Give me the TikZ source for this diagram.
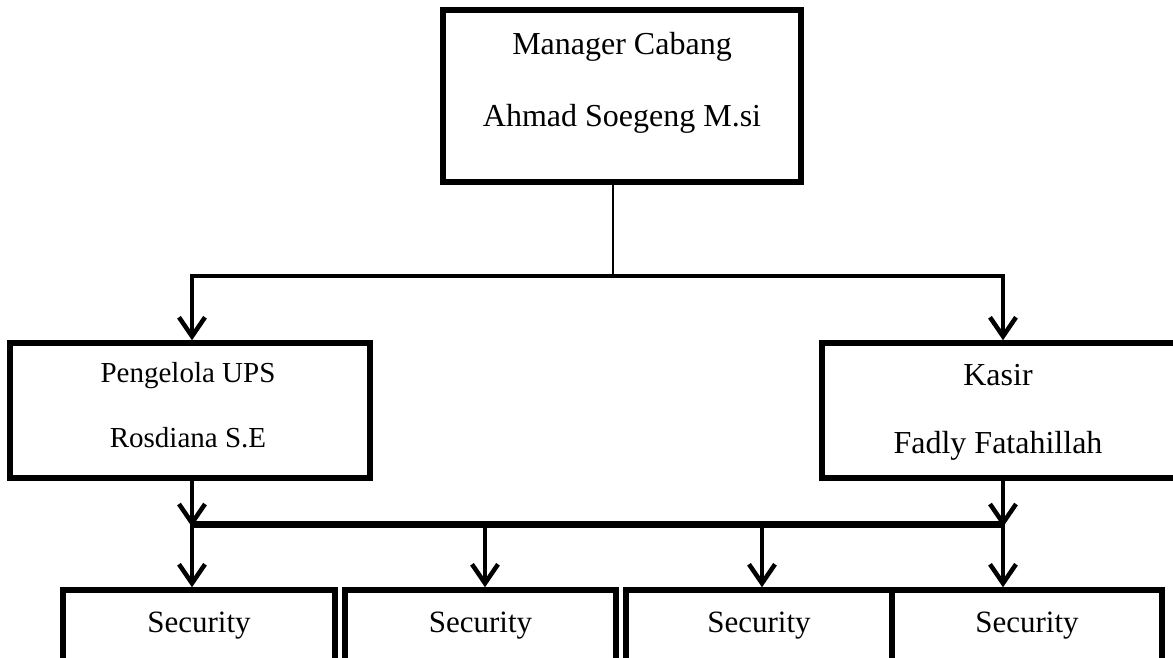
\documentclass[tikz,border=0pt]{standalone}
\usepackage{fontspec}
\setmainfont{Liberation Serif}
\usetikzlibrary{arrows.meta}
\begin{document}
\begin{tikzpicture}[x=1pt,y=-1pt,
  box/.style={draw,line width=5.5pt,rectangle,inner sep=0pt},
  lbl/.style={anchor=base,inner sep=0pt},
  arr/.style={line width=4.5pt,-{Straight Barb[length=19pt,width=26pt]}},
  thin/.style={line width=1.5pt},
  busline/.style={line width=7pt}]
\useasboundingbox (0,0) rectangle (1173,658);
\clip (0,0) rectangle (1173,658);
% boxes
\node[box,minimum width=358pt,minimum height=172pt] (top) at (622,96) {};
\node[box,minimum width=360pt,minimum height=135pt] (left) at (190,410.5) {};
\node[box,minimum width=363pt,minimum height=135pt] (right) at (1003.5,410.5) {};
\node[box,minimum width=272pt,minimum height=130pt] (s1) at (199,655) {};
\node[box,minimum width=271pt,minimum height=130pt] (s2) at (480.5,655) {};
\node[box,minimum width=266pt,minimum height=130pt] (s3) at (759,655) {};
\node[box,minimum width=270pt,minimum height=130pt] (s4) at (1027,655) {};
% texts
\node[lbl,font=\fontsize{32}{36}\selectfont] (t1) at (622,55) {Manager Cabang};
\node[lbl,font=\fontsize{32}{36}\selectfont] (t2) at (622,127) {Ahmad Soegeng M.si};
\node[lbl,font=\fontsize{29}{34}\selectfont] (l1) at (188,382) {Pengelola UPS};
\node[lbl,font=\fontsize{29}{34}\selectfont] (l2) at (188,447) {Rosdiana S.E};
\node[lbl,font=\fontsize{32}{36}\selectfont] (r1) at (998,385) {Kasir};
\node[lbl,font=\fontsize{32}{36}\selectfont] (r2) at (998,453) {Fadly Fatahillah};
\node[lbl,font=\fontsize{31}{34}\selectfont] (st1) at (199,632) {Security};
\node[lbl,font=\fontsize{31}{34}\selectfont] (st2) at (480.5,632) {Security};
\node[lbl,font=\fontsize{31}{34}\selectfont] (st3) at (759,632) {Security};
\node[lbl,font=\fontsize{31}{34}\selectfont] (st4) at (1027,632) {Security};
% connectors
\coordinate (j) at (613,276);
\coordinate (bl) at (192,524);
\coordinate (br) at (1003,524);
\coordinate (b2) at (485,524);
\coordinate (b3) at (762,524);
\draw[thin] (top.south -| j) -- (j);
\draw[arr] (j) -| (bl |- left.north);
\draw[arr] (j) -| (br |- right.north);
\draw[arr] (bl |- left.south) -- ([yshift=-3pt]bl);
\draw[arr] (br |- right.south) -- ([yshift=-3pt]br);
\draw[busline] ([xshift=-2pt]bl) -- ([xshift=2pt]br);
\draw[arr] (bl) -- (bl |- s1.north);
\draw[arr] (b2) -- (b2 |- s2.north);
\draw[arr] (b3) -- (b3 |- s3.north);
\draw[arr] (br) -- (br |- s4.north);
\end{tikzpicture}
\end{document}
